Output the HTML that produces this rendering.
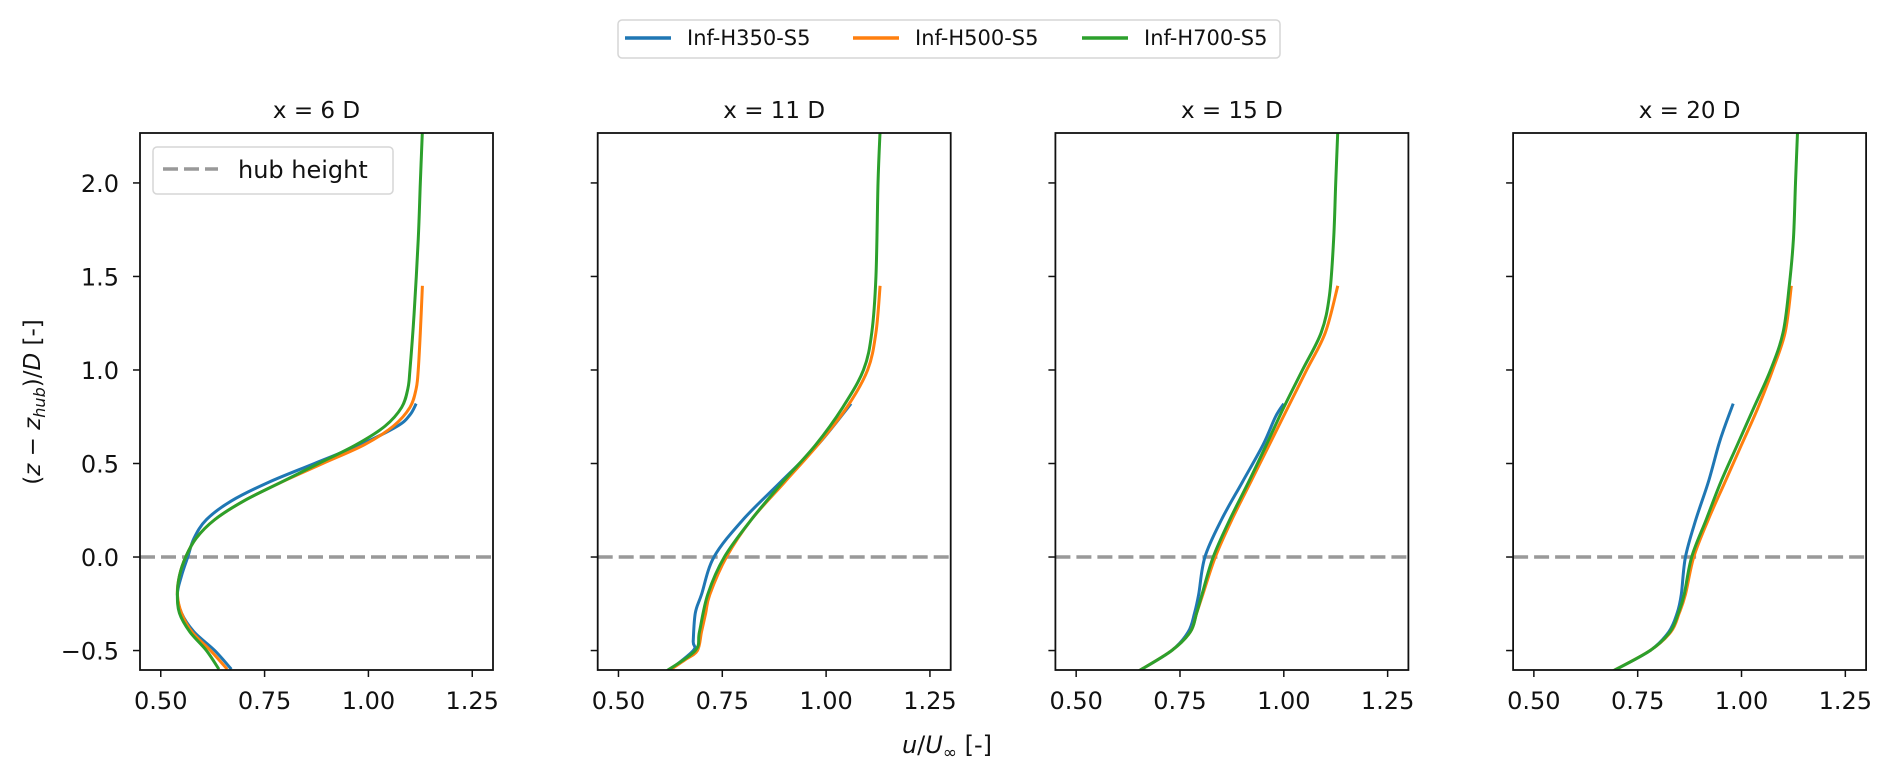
<!DOCTYPE html>
<html><head><meta charset="utf-8">
<style>
html,body{margin:0;padding:0;background:#fff;}
svg{display:block;font-family:"DejaVu Sans","Liberation Sans",sans-serif;}
</style></head>
<body>
<svg id="chart" width="1892" height="777" viewBox="0 0 1892 777" xmlns="http://www.w3.org/2000/svg">
  <g>
    <rect x="618" y="20" width="662" height="38" rx="4" fill="#fff" stroke="#d6d6d6" stroke-width="1.5"/>
    <line x1="625" y1="38" x2="671" y2="38" stroke="#1f77b4" stroke-width="3.5"/>
    <text x="687" y="45" font-size="21" fill="#111">Inf-H350-S5</text>
    <line x1="853" y1="38" x2="899" y2="38" stroke="#ff7f0e" stroke-width="3.5"/>
    <text x="915" y="45" font-size="21" fill="#111">Inf-H500-S5</text>
    <line x1="1082" y1="38" x2="1128" y2="38" stroke="#2ca02c" stroke-width="3.5"/>
    <text x="1144" y="45" font-size="21" fill="#111">Inf-H700-S5</text>
  </g>
  <text x="40" y="402" font-size="23" text-anchor="middle" transform="rotate(-90 40 402)" fill="#111">(<tspan font-style="italic">z</tspan> − <tspan font-style="italic">z</tspan><tspan font-style="italic" font-size="16" dy="5">hub</tspan><tspan dy="-5">)/</tspan><tspan font-style="italic">D</tspan> [-]</text>
  <text x="947" y="753" font-size="24" text-anchor="middle" fill="#111"><tspan font-style="italic">u</tspan>/<tspan font-style="italic">U</tspan><tspan font-size="17" dy="5">∞</tspan><tspan dy="-5"> [-]</tspan></text>
  <g id="panels"></g>
</svg>
<script>
const panelTitles = ["x = 6 D", "x = 11 D", "x = 15 D", "x = 20 D"];
const seriesNames = ["Inf-H350-S5", "Inf-H500-S5", "Inf-H700-S5"];
const seriesColors = ["#1f77b4", "#ff7f0e", "#2ca02c"];
const xTicks = [0.5, 0.75, 1.0, 1.25];
const xTickLabels = ["0.50", "0.75", "1.00", "1.25"];
const yTicks = [-0.5, 0, 0.5, 1.0, 1.5, 2.0];
const yTickLabels = ["−0.5", "0.0", "0.5", "1.0", "1.5", "2.0"];
const hubHeight = 0;

const p1BlueZ = [-0.6,-0.5,-0.4,-0.3,-0.2,-0.1,0,0.1,0.2,0.3,0.4,0.5,0.6,0.7,0.76,0.82];
const p1BlueU = [0.67,0.63,0.58,0.55,0.54,0.55,0.565,0.58,0.61,0.67,0.76,0.87,0.98,1.07,1.10,1.115];
const p1OrangeZ = [-0.6,-0.5,-0.4,-0.3,-0.2,-0.1,0,0.1,0.2,0.3,0.4,0.5,0.6,0.7,0.8,0.9,1.0,1.2,1.45];
const p1OrangeU = [0.66,0.62,0.575,0.55,0.54,0.545,0.56,0.585,0.63,0.70,0.79,0.89,0.99,1.06,1.10,1.115,1.12,1.125,1.13];
const p1GreenZ = [-0.6,-0.5,-0.4,-0.3,-0.2,-0.1,0,0.1,0.2,0.3,0.4,0.5,0.6,0.7,0.8,0.9,1.0,1.3,1.7,2.0,2.28];
const p1GreenU = [0.64,0.61,0.57,0.545,0.54,0.545,0.56,0.585,0.63,0.70,0.79,0.88,0.97,1.04,1.08,1.095,1.10,1.11,1.12,1.125,1.13];

const p2BlueZ = [-0.61,-0.5,-0.45,-0.3,-0.2,0,0.2,0.4,0.6,0.82];
const p2BlueU = [0.62,0.68,0.68,0.685,0.70,0.73,0.80,0.89,0.98,1.06];
const p2OrangeZ = [-0.61,-0.55,-0.5,-0.4,-0.3,-0.2,0,0.2,0.4,0.6,0.8,1.0,1.2,1.45];
const p2OrangeU = [0.62,0.66,0.69,0.70,0.71,0.72,0.76,0.82,0.90,0.98,1.05,1.10,1.12,1.13];
const p2GreenZ = [-0.61,-0.5,-0.4,-0.2,0,0.2,0.4,0.6,0.8,1.0,1.2,1.5,2.0,2.28];
const p2GreenU = [0.615,0.685,0.695,0.715,0.755,0.82,0.895,0.975,1.04,1.09,1.11,1.12,1.125,1.13];

const p3BlueZ = [-0.61,-0.5,-0.4,-0.3,-0.2,0,0.2,0.4,0.6,0.75,0.82];
const p3BlueU = [0.65,0.73,0.77,0.785,0.795,0.81,0.85,0.90,0.95,0.98,1.00];
const p3OrangeZ = [-0.61,-0.5,-0.4,-0.3,-0.2,0,0.2,0.4,0.6,0.8,1.0,1.2,1.45];
const p3OrangeU = [0.65,0.73,0.775,0.79,0.805,0.835,0.875,0.92,0.965,1.01,1.055,1.10,1.13];
const p3GreenZ = [-0.61,-0.5,-0.4,-0.3,-0.2,0,0.2,0.4,0.6,0.8,1.0,1.2,1.4,1.7,2.0,2.28];
const p3GreenU = [0.65,0.73,0.775,0.79,0.803,0.83,0.87,0.915,0.958,1.00,1.045,1.09,1.11,1.12,1.125,1.13];

const p4BlueZ = [-0.61,-0.5,-0.4,-0.3,-0.2,0,0.2,0.4,0.6,0.7,0.82];
const p4BlueU = [0.69,0.78,0.825,0.845,0.855,0.865,0.89,0.92,0.945,0.96,0.98];
const p4OrangeZ = [-0.61,-0.5,-0.4,-0.3,-0.2,0,0.2,0.4,0.6,0.8,1.0,1.2,1.45];
const p4OrangeU = [0.69,0.78,0.83,0.85,0.865,0.885,0.92,0.96,1.00,1.04,1.075,1.105,1.12];
const p4GreenZ = [-0.61,-0.5,-0.4,-0.3,-0.2,0,0.2,0.4,0.6,0.8,1.0,1.2,1.45,1.7,2.0,2.28];
const p4GreenU = [0.69,0.78,0.828,0.848,0.862,0.88,0.915,0.95,0.99,1.03,1.07,1.10,1.115,1.125,1.13,1.135];

const panelZ = [[p1BlueZ,p1OrangeZ,p1GreenZ],[p2BlueZ,p2OrangeZ,p2GreenZ],[p3BlueZ,p3OrangeZ,p3GreenZ],[p4BlueZ,p4OrangeZ,p4GreenZ]];
const panelU = [[p1BlueU,p1OrangeU,p1GreenU],[p2BlueU,p2OrangeU,p2GreenU],[p3BlueU,p3OrangeU,p3GreenU],[p4BlueU,p4OrangeU,p4GreenU]];

const NS = "http://www.w3.org/2000/svg";
const X_MIN = 0.45, X_MAX = 1.30, Y_MIN = -0.604, Y_MAX = 2.267;
const PW = 353, TOP = 133, BOTTOM = 670;
const root = document.getElementById("panels");
function mk(tag, attrs, parent){ const e=document.createElementNS(NS,tag); for(const k in attrs) e.setAttribute(k,attrs[k]); parent.appendChild(e); return e; }

function smoothPath(pts){
  let d = "M"+pts[0][0].toFixed(2)+","+pts[0][1].toFixed(2);
  for(let i=0;i<pts.length-1;i++){
    const p0=pts[Math.max(0,i-1)], p1=pts[i], p2=pts[i+1], p3=pts[Math.min(pts.length-1,i+2)];
    const c1x=p1[0]+(p2[0]-p0[0])/6, c1y=p1[1]+(p2[1]-p0[1])/6;
    const c2x=p2[0]-(p3[0]-p1[0])/6, c2y=p2[1]-(p3[1]-p1[1])/6;
    d+=" C"+c1x.toFixed(2)+","+c1y.toFixed(2)+" "+c2x.toFixed(2)+","+c2y.toFixed(2)+" "+p2[0].toFixed(2)+","+p2[1].toFixed(2);
  }
  return d;
}

for(let p=0;p<4;p++){
  const left = 140 + p*457.7;
  const xs = v => left + (v - X_MIN)/(X_MAX - X_MIN)*PW;
  const ys = v => BOTTOM - (v - Y_MIN)/(Y_MAX - Y_MIN)*(BOTTOM-TOP);
  const g = mk("g",{},root);
  
  
  const cp = mk("clipPath",{id:"clip"+p},g);
  mk("rect",{x:left,y:TOP,width:PW,height:BOTTOM-TOP},cp);

  const title = mk("text",{x:left+PW/2,y:118,"font-size":23,"text-anchor":"middle",fill:"#111"},g);
  title.textContent = panelTitles[p];
  
  

  const hub = mk("line",{x1:left,x2:left+PW,y1:ys(hubHeight),y2:ys(hubHeight),stroke:"#999","stroke-width":3.5,"stroke-dasharray":"15,6"},g);
  
  

  for(let s=0;s<3;s++){
    const pts = panelZ[p][s].map((z,i)=>[xs(panelU[p][s][i]), ys(z)]);
    const path = mk("path",{d:smoothPath(pts),fill:"none",stroke:seriesColors[s],"stroke-width":3,"clip-path":"url(#clip"+p+")","stroke-linejoin":"round"},g);
    
    
  }

  mk("rect",{x:left,y:TOP,width:PW,height:BOTTOM-TOP,fill:"none",stroke:"#111","stroke-width":1.8},g);

  xTicks.forEach((t,i)=>{
    mk("line",{x1:xs(t),x2:xs(t),y1:BOTTOM,y2:BOTTOM+7,stroke:"#111","stroke-width":1.5},g);
    const tl = mk("text",{x:xs(t),y:709,"font-size":24,"text-anchor":"middle",fill:"#111"},g);
    tl.textContent = xTickLabels[i];
    
    
  });
  yTicks.forEach((t,i)=>{
    mk("line",{x1:left-7,x2:left,y1:ys(t),y2:ys(t),stroke:"#111","stroke-width":1.5},g);
    if(p===0){
      const tl = mk("text",{x:left-21,y:ys(t)+9,"font-size":24,"text-anchor":"end",fill:"#111"},g);
      tl.textContent = yTickLabels[i];
      
      
    }
  });

  if(p===0){
    const lg = mk("g",{},g);
    
    
    mk("rect",{x:153,y:147,width:240,height:47,rx:4,fill:"#fff",stroke:"#d6d6d6","stroke-width":1.5},lg);
    mk("line",{x1:163,x2:218,y1:169,y2:169,stroke:"#999","stroke-width":3.5,"stroke-dasharray":"15,6"},lg);
    const lt = mk("text",{x:238,y:178,"font-size":24,fill:"#111"},lg);
    lt.textContent = "hub height";
  }
}
</script>
</body></html>
